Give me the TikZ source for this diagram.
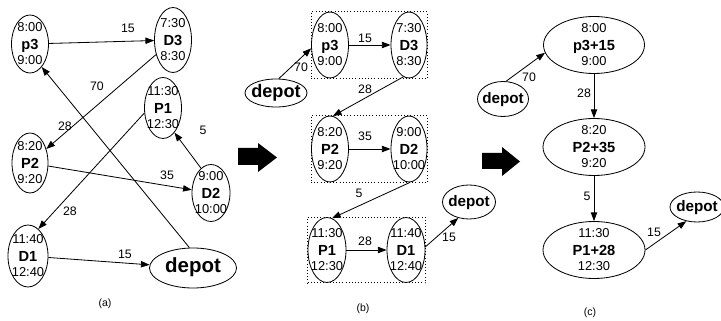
\documentclass[tikz,border=0pt]{standalone}
\usepackage{fontspec}
\setmainfont{Liberation Sans}
\usetikzlibrary{shapes, arrows.meta, positioning, fit}

\newcommand{\timefont}{\fontsize{11}{12}\selectfont}
\newcommand{\namefont}{\fontsize{12.5}{14}\selectfont\bfseries}
\newcommand{\visit}[3]{%
  \makebox[0pt]{\raisebox{3.6mm}[0pt][0pt]{\timefont #1}}%
  \makebox[0pt]{\raisebox{-1.6mm}[0pt][0pt]{\namefont #2}}%
  \makebox[0pt]{\raisebox{-6.2mm}[0pt][0pt]{\timefont #3}}}
\newcommand{\depotname}[1]{%
  \makebox[0pt]{\raisebox{-1.3mm}[0pt][0pt]{\fontsize{#1}{#1}\selectfont\bfseries depot}}}

\begin{document}
\begin{tikzpicture}[
  x=0.3mm, y=-0.3mm,
  stopnode/.style 2 args={draw, ellipse, line width=0.7pt, inner sep=0pt,
    minimum width=#1*0.3mm, minimum height=#2*0.3mm},
  wlabel/.style={font=\fontsize{10.5}{12}\selectfont, inner sep=0pt},
  caption/.style={font=\fontsize{9}{11}\selectfont, inner sep=0pt},
  arc/.style={-{Triangle[length=2.6mm, width=1.9mm]}, line width=0.7pt},
  group/.style={draw, dotted, line width=0.7pt, inner sep=0pt},
]
  \useasboundingbox (0,0) rectangle (721,321);

  % (a) requests
  \node[stopnode={37}{58}] (p3a) at (30,44) {\visit{8:00}{p3}{9:00}};
  \node[stopnode={37}{65}] (d3a) at (173,40) {\visit{7:30}{D3}{8:30}};
  \node[stopnode={37}{61}] (p1a) at (163,108) {\visit{11:30}{P1}{12:30}};
  \node[stopnode={36}{60}] (p2a) at (30,163) {\visit{8:20}{P2}{9:20}};
  \node[stopnode={38}{57}] (d2a) at (211,193) {\visit{9:00}{D2}{10:00}};
  \node[stopnode={40}{62}] (d1a) at (28,256) {\visit{11:40}{D1}{12:40}};
  \node[stopnode={87}{40}] (depota) at (193,268) {\depotname{17.5}};

  \draw[arc] (p3a) -- (d3a);
  \draw[arc] (d3a) -- (p2a);
  \draw[arc] (depota.100) -- (p3a.-63);
  \draw[arc] (p1a.195) -- (d1a.69);
  \draw[arc] (d2a.112) -- (p1a.-65);
  \draw[arc] (p2a) -- (d2a);
  \draw[arc] (d1a) -- (depota);

  \node[wlabel] (wa1) at (128,28) {15};
  \node[wlabel] (wa2) at (65,126) {28};
  \node[wlabel] (wa3) at (97,86) {70};
  \node[wlabel] (wa4) at (70,211) {28};
  \node[wlabel] (wa5) at (203,130) {5};
  \node[wlabel] (wa6) at (167,175) {35};
  \node[wlabel] (wa7) at (125,254) {15};
  \node[caption] (capa) at (105,304) {(a)};

  % step arrow
  \fill (238,148) -- (258,148) -- (258,143) -- (277,157.5) -- (258,172)
    -- (258,165) -- (238,165) -- cycle;

  % (b) paired stops
  \node[stopnode={62}{28}] (depotbl) at (276,93) {\depotname{15.5}};
  \node[stopnode={37}{66}] (p3b) at (330,45) {\visit{8:00}{p3}{9:00}};
  \node[stopnode={36}{66}] (d3b) at (409,45) {\visit{7:30}{D3}{8:30}};
  \node[stopnode={37}{66}] (p2b) at (330,149) {\visit{8:20}{P2}{9:20}};
  \node[stopnode={36}{66}] (d2b) at (409,149) {\visit{9:00}{D2}{10:00}};
  \node[stopnode={38}{65}] (p1b) at (327,250) {\visit{11:30}{P1}{12:30}};
  \node[stopnode={38}{65}] (d1b) at (406,250) {\visit{11:40}{D1}{12:40}};
  \node[stopnode={53}{34}] (depotbr) at (469,202) {\depotname{13}};

  \node[group, fit=(p3b)(d3b)] (grp1) {};
  \node[group, fit=(p2b)(d2b)] (grp2) {};
  \node[group, fit=(p1b)(d1b)] (grp3) {};

  \draw[arc] (depotbl.79) -- (p3b.190);
  \draw[arc] (p3b) -- (d3b);
  \draw[arc] (d3b.-100) -- (p2b.85);
  \draw[arc] (p2b) -- (d2b);
  \draw[arc] (d2b.-88) -- (p1b.81);
  \draw[arc] (p1b) -- (d1b);
  \draw[arc] (d1b.9) -- (depotbr.236);

  \node[wlabel] (wb1) at (301,67) {70};
  \node[wlabel] (wb2) at (365,38) {15};
  \node[wlabel] (wb3) at (365,89) {28};
  \node[wlabel] (wb4) at (365,136) {35};
  \node[wlabel] (wb5) at (359,193) {5};
  \node[wlabel] (wb6) at (365,241) {28};
  \node[wlabel] (wb7) at (449,237) {15};
  \node[caption] (capb) at (363,309) {(b)};

  % step arrow
  \fill (482,153) -- (502,153) -- (502,147) -- (520,161.5) -- (502,176)
    -- (502,169) -- (482,169) -- cycle;

  % (c) merged stops
  \node[stopnode={51}{35}] (depotcl) at (503,99) {\depotname{13}};
  \node[stopnode={101}{57}] (pc1) at (594,45) {\visit{8:00}{p3+15}{9:00}};
  \node[stopnode={102}{57}] (pc2) at (594,147) {\visit{8:20}{P2+35}{9:20}};
  \node[stopnode={102}{57}] (pc3) at (594,250) {\visit{11:30}{P1+28}{12:30}};
  \node[stopnode={54}{30}] (depotcr) at (697,207) {\depotname{13}};

  \draw[arc] (depotcl.80) -- (pc1.189);
  \draw[arc] (pc1) -- (pc2);
  \draw[arc] (pc2) -- (pc3);
  \draw[arc] (pc3.east) -- (depotcr.233);

  \node[wlabel] (wc1) at (529,77) {70};
  \node[wlabel] (wc2) at (584,93) {28};
  \node[wlabel] (wc3) at (587,196) {5};
  \node[wlabel] (wc4) at (654,232) {15};
  \node[caption] (capc) at (590,313) {(c)};
\end{tikzpicture}
\end{document}
